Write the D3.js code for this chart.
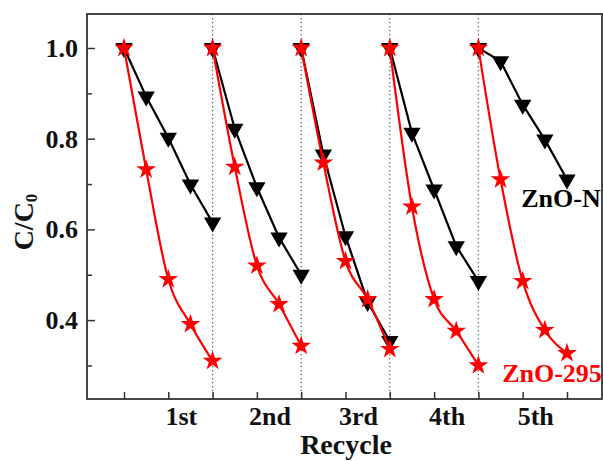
<!DOCTYPE html>
<html>
<head>
<meta charset="utf-8">
<script src="https://cdn.jsdelivr.net/npm/d3@7"></script>
<style>
  body { margin: 0; background: #fff; }
  text { font-family: "Liberation Serif", "Times New Roman", serif; font-weight: bold; }
</style>
</head>
<body>
<svg id="svg_id"></svg>
<script>
// each recycle run: 5 sampling points, C/C0
var cycles = ["1st", "2nd", "3rd", "4th", "5th"];
var stepsPerCycle = 4;

var znoN = [
  [1.0, 0.893, 0.802, 0.699, 0.615],
  [1.0, 0.822, 0.693, 0.582, 0.500],
  [1.0, 0.765, 0.585, 0.440, 0.354],
  [1.0, 0.813, 0.688, 0.563, 0.486],
  [1.0, 0.971, 0.875, 0.798, 0.710]
];

var zno295 = [
  [1.0, 0.732, 0.490, 0.391, 0.310],
  [1.0, 0.738, 0.520, 0.435, 0.343],
  [1.0, 0.747, 0.530, 0.446, 0.336],
  [1.0, 0.650, 0.446, 0.376, 0.300],
  [1.0, 0.710, 0.486, 0.378, 0.327]
];

var yMajor = [0.4, 0.6, 0.8, 1.0];
var yMinor = [0.3, 0.5, 0.7, 0.9];

var width = 603, height = 461;
var margin = { top: 14, right: 1, bottom: 62, left: 87 };

var svg = d3.select("#svg_id")
  .attr("width", width)
  .attr("height", height);

var x = d3.scaleLinear()
  .domain([-1.67, 21.58])
  .range([margin.left, width - margin.right]);

var y = d3.scaleLinear()
  .domain([0.226, 1.075])
  .range([height - margin.bottom, margin.top]);

var axisColor = "#333";

// dotted separators between runs
var seps = d3.range(1, cycles.length).map(function(i) { return i * stepsPerCycle; });
svg.selectAll(".sep")
  .data(seps)
  .enter().append("line")
  .attr("x1", function(d) { return x(d); })
  .attr("x2", function(d) { return x(d); })
  .attr("y1", margin.top)
  .attr("y2", height - margin.bottom)
  .attr("stroke", "#555")
  .attr("stroke-width", 1.2)
  .attr("stroke-dasharray", "1.3,2.7");

// frame
svg.append("rect")
  .attr("x", margin.left)
  .attr("y", margin.top)
  .attr("width", width - margin.left - margin.right)
  .attr("height", height - margin.top - margin.bottom)
  .attr("fill", "none")
  .attr("stroke", axisColor)
  .attr("stroke-width", 1.8);

// left axis, ticks inward
var yAxis = svg.append("g")
  .attr("transform", "translate(" + margin.left + ",0)")
  .call(d3.axisLeft(y).tickValues(yMajor).tickSizeInner(-8).tickSizeOuter(0)
    .tickFormat(d3.format(".1f")));
yAxis.select(".domain").remove();
yAxis.selectAll("line").attr("stroke", axisColor).attr("stroke-width", 1.5);
yAxis.selectAll("text").attr("font-size", 26).attr("fill", "#111")
  .attr("x", -9).attr("font-family", "Liberation Serif").attr("font-weight", "bold");

var yAxisMinor = svg.append("g")
  .attr("transform", "translate(" + margin.left + ",0)")
  .call(d3.axisLeft(y).tickValues(yMinor).tickSizeInner(-5).tickSizeOuter(0).tickFormat(""));
yAxisMinor.select(".domain").remove();
yAxisMinor.selectAll("line").attr("stroke", axisColor).attr("stroke-width", 1.5);

// bottom axis, ticks inward
var xTicks = d3.range(0, cycles.length * stepsPerCycle + 1, 2);
var xAxis = svg.append("g")
  .attr("transform", "translate(0," + (height - margin.bottom) + ")")
  .call(d3.axisBottom(x).tickValues(xTicks).tickSizeInner(-7).tickSizeOuter(0).tickFormat(""));
xAxis.select(".domain").remove();
xAxis.selectAll("line").attr("stroke", axisColor).attr("stroke-width", 1.5);

// run labels under each run
svg.selectAll(".cyc")
  .data(cycles)
  .enter().append("text")
  .attr("x", function(d, i) { return x(i * stepsPerCycle + stepsPerCycle / 2) + 13; })
  .attr("y", height - margin.bottom + 26)
  .attr("text-anchor", "middle")
  .attr("font-size", 26)
  .attr("fill", "#111")
  .text(function(d) { return d; });

svg.append("text")
  .attr("x", 346)
  .attr("y", 454)
  .attr("text-anchor", "middle")
  .attr("font-size", 28)
  .attr("fill", "#111")
  .text("Recycle");

var yl = svg.append("text")
  .attr("transform", "translate(33,222) rotate(-90)")
  .attr("text-anchor", "middle")
  .attr("font-size", 28)
  .attr("fill", "#111");
yl.append("tspan").text("C/C");
yl.append("tspan").attr("font-size", 17).attr("dy", 4).text("0");

function drawSeries(series, color, symbol, rotate, curve, cls) {
  var line = d3.line()
    .x(function(d) { return x(d.t); })
    .y(function(d) { return y(d.v); })
    .curve(curve);

  var runs = series.map(function(vals, c) {
    return vals.map(function(v, k) { return { t: c * stepsPerCycle + k, v: v }; });
  });

  svg.selectAll(".line-" + cls)
    .data(runs)
    .enter().append("path")
    .attr("d", line)
    .attr("fill", "none")
    .attr("stroke", color)
    .attr("stroke-width", 2.2);

  var pts = [].concat.apply([], runs);
  svg.selectAll(".pt-" + cls)
    .data(pts)
    .enter().append("path")
    .attr("d", symbol)
    .attr("transform", function(d) {
      return "translate(" + x(d.t) + "," + y(d.v) + ") rotate(" + rotate + ")";
    })
    .attr("fill", color);
}

drawSeries(znoN, "#000", d3.symbol().type(d3.symbolTriangle).size(130), 180, d3.curveLinear, "n");
drawSeries(zno295, "#ff0000", d3.symbol().type(d3.symbolStar).size(120), 0, d3.curveMonotoneX, "r");

svg.append("text")
  .attr("x", 561)
  .attr("y", 207)
  .attr("text-anchor", "middle")
  .attr("font-size", 26)
  .attr("fill", "#000")
  .text("ZnO-N");

svg.append("text")
  .attr("x", 552)
  .attr("y", 382)
  .attr("text-anchor", "middle")
  .attr("font-size", 26)
  .attr("fill", "#ff0000")
  .text("ZnO-295");
</script>
</body>
</html>
